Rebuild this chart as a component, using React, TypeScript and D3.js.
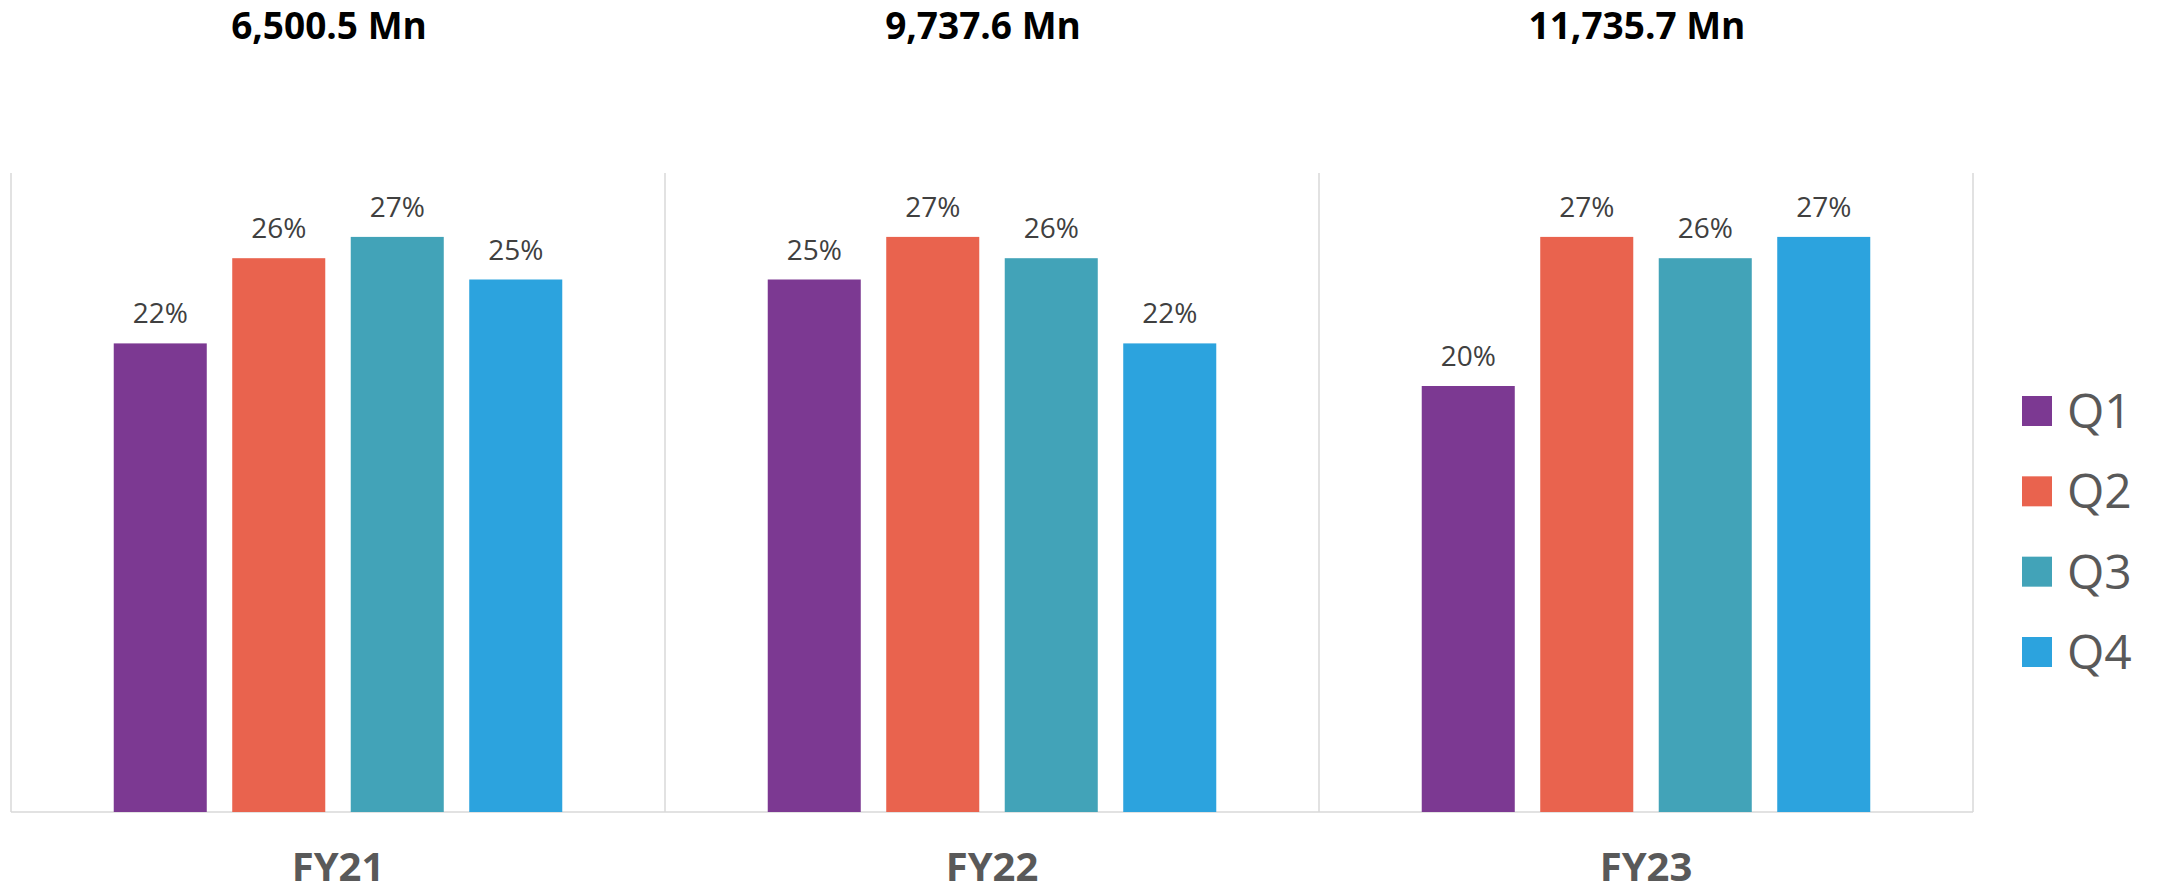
import * as d3 from 'd3'

// Quarterly share of yearly revenue
const years = ['FY21', 'FY22', 'FY23']
const yearTotals = ['6,500.5 Mn', '9,737.6 Mn', '11,735.7 Mn']
const quarters = ['Q1', 'Q2', 'Q3', 'Q4']
const q1Share = [22, 25, 20]
const q2Share = [26, 27, 27]
const q3Share = [27, 26, 26]
const q4Share = [25, 22, 27]
const quarterColors = ['#7C3992', '#E9634E', '#42A3B8', '#2CA3DE']

const W = 2157
const H = 893
const FONT = '"Open Sans", "DejaVu Sans", sans-serif'

export default function App() {
  const series = [q1Share, q2Share, q3Share, q4Share]

  const margin = { top: 173, right: 184, bottom: 81, left: 11 }
  const x0 = d3.scaleBand<string>().domain(years).range([margin.left, W - margin.right]).padding(0)
  const x1 = d3.scaleBand<string>()
    .domain(quarters)
    .range([0, x0.bandwidth()])
    .paddingInner(0.215)
    .paddingOuter(0.867)
  const y = d3.scaleLinear().domain([0, 30]).range([H - margin.bottom, margin.top])
  const legendY = d3.scalePoint<string>().domain(quarters).range([411, 652])
  const color = d3.scaleOrdinal<string, string>().domain(quarters).range(quarterColors)

  const dividers = [...years.map(yr => x0(yr) as number), x0.range()[1]]

  return (
    <svg
      width={W}
      height={H}
      style={{ position: 'absolute', left: 0, top: 0, background: '#fff' }}
      fontFamily={FONT}
    >
      {/* panel separators and base line */}
      <g stroke="#d9d9d9" strokeWidth={1.5}>
        {dividers.map((d, i) => (
          <line key={i} x1={d} x2={d} y1={y(30)} y2={y(0)} />
        ))}
        <line x1={x0.range()[0]} x2={x0.range()[1]} y1={y(0)} y2={y(0)} />
      </g>

      {/* yearly totals */}
      {years.map((yr, i) => (
        <text
          key={yr}
          x={(x0(yr) as number) + x0.bandwidth() / 2 - 9}
          y={39}
          textAnchor="middle"
          fontSize={37}
          fontWeight={700}
          fill="#000"
        >
          {yearTotals[i]}
        </text>
      ))}

      {/* bars */}
      {years.map((yr, i) => (
        <g key={yr} transform={`translate(${x0(yr)},0)`}>
          {quarters.map((q, j) => {
            const v = series[j][i]
            const bx = x1(q) as number
            return (
              <g key={q}>
                <rect x={bx} y={y(v)} width={x1.bandwidth()} height={y(0) - y(v)} fill={color(q)} />
                <text
                  x={bx + x1.bandwidth() / 2}
                  y={y(v) - 20}
                  textAnchor="middle"
                  fontSize={28}
                  fill="#404040"
                >
                  {v}%
                </text>
              </g>
            )
          })}
        </g>
      ))}

      {/* category labels */}
      {years.map(yr => (
        <text
          key={yr}
          x={(x0(yr) as number) + x0.bandwidth() / 2}
          y={881}
          textAnchor="middle"
          fontSize={40}
          fontWeight={700}
          fill="#595959"
        >
          {yr}
        </text>
      ))}

      {/* legend */}
      {quarters.map(q => (
        <g key={q} transform={`translate(2022,${legendY(q)})`}>
          <rect x={0} y={-15} width={30} height={30} fill={color(q)} />
          <text x={45} y={17} fontSize={48} fill="#595959">
            {q}
          </text>
        </g>
      ))}
    </svg>
  )
}
